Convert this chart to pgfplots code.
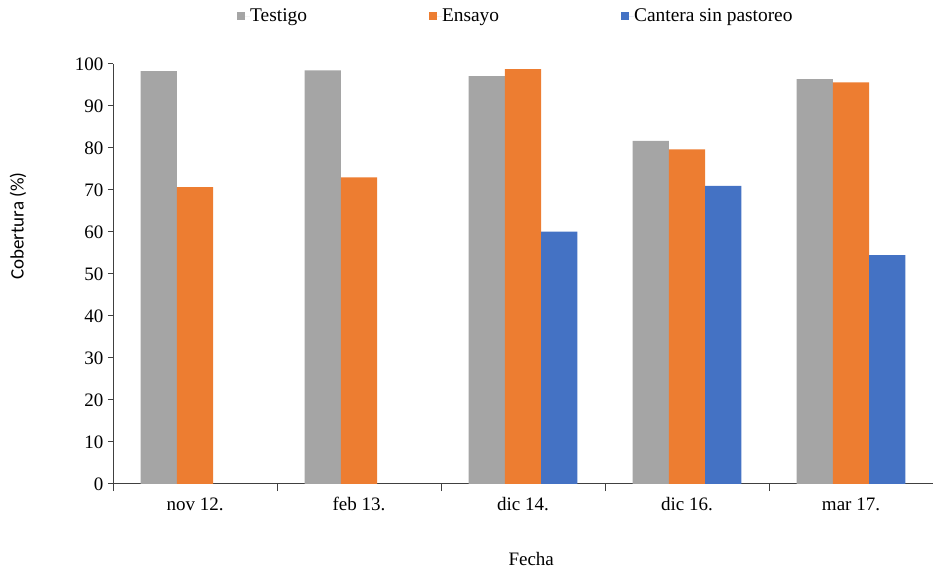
\documentclass[border=0pt]{standalone}
\usepackage{fontspec}
\setmainfont{Liberation Serif}
\newfontfamily\cobfont{Carlito}
\usepackage{pgfplots}
\pgfplotsset{compat=1.18}

\definecolor{cTestigo}{HTML}{A5A5A5}
\definecolor{cEnsayo}{HTML}{ED7D31}
\definecolor{cCantera}{HTML}{4472C4}
\definecolor{axisgray}{HTML}{404040}

\begin{document}
\begin{tikzpicture}
\path[use as bounding box] (0,0) rectangle (933bp,572bp);
\begin{axis}[
  at={(113bp,88bp)}, anchor=south west,
  scale only axis, width=820bp, height=420bp,
  ybar=0pt, bar width=36.3bp,
  xmin=-0.5, xmax=4.5, ymin=0, ymax=100,
  axis x line*=bottom, axis y line*=left,
  axis line style={axisgray, line width=1bp},
  xtick={0,1,2,3,4},
  xticklabels={nov 12.,feb 13.,dic 14.,dic 16.,mar 17.},
  major x tick style={draw=none},
  minor xtick={-0.5,0.5,1.5,2.5,3.5,4.5},
  minor x tick style={axisgray, line width=1bp},
  minor tick length=7bp,
  ytick={0,10,...,100},
  major tick length=5bp,
  y tick style={axisgray, line width=1bp},
  tick align=outside,
  /pgf/number format/assume math mode=true,
  tick label style={font=\fontsize{19bp}{22bp}\selectfont},
  yticklabel style={xshift=-1bp},
  xticklabel style={yshift=-5bp},
  xlabel={Fecha},
  ylabel={\cobfont Cobertura (\%)},
  every axis x label/.style={at={(rel axis cs:0.51,-0.195)}, anchor=base,
    font=\fontsize{19bp}{22bp}\selectfont},
  every axis y label/.style={at={(rel axis cs:-0.116,0.614)}, anchor=center,
    rotate=90, font=\fontsize{19bp}{22bp}\selectfont},
  legend columns=3,
  legend image code/.code={
    \fill[#1] (0bp,-4bp) rectangle (8bp,4bp);
    \path (0bp,0bp) -- (13bp,0bp);
  },
  legend style={
    draw=none, fill=none, inner sep=0pt,
    at={(rel axis cs:0.1512,1.114)}, anchor=west,
    nodes={inner sep=0pt},
    font=\fontsize{19.4bp}{22bp}\selectfont,
    /tikz/every even column/.append style={column sep=122bp},
  },
]
\addplot[fill=cTestigo, draw=none] coordinates {
  (0,98.3) (1,98.5) (2,97.1) (3,81.7) (4,96.4)};
\addlegendentry{Testigo}
\addplot[fill=cEnsayo, draw=none] coordinates {
  (0,70.7) (1,73.0) (2,98.8) (3,79.7) (4,95.6)};
\addlegendentry{Ensayo}
\addplot[fill=cCantera, draw=none] coordinates {
  (2,60.1) (3,71.0) (4,54.5)};
\addlegendentry{Cantera sin pastoreo}
\end{axis}
\end{tikzpicture}
\end{document}
